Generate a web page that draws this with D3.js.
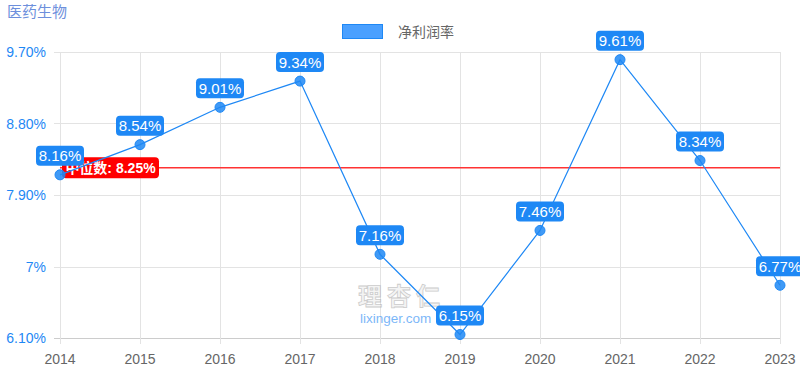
<!DOCTYPE html>
<html><head><meta charset="utf-8">
<script src="https://cdn.jsdelivr.net/npm/d3@7"></script>
<style>
body{margin:0;background:#fff;}
svg{display:block;font-family:"Liberation Sans",Arial,"Noto Sans CJK SC",sans-serif;}
</style></head>
<body><svg id="c" width="800" height="375"></svg>
<script>
const title = "医药生物";
const seriesName = "净利润率";
const years = ["2014","2015","2016","2017","2018","2019","2020","2021","2022","2023"];
const values = [8.16, 8.54, 9.01, 9.34, 7.16, 6.15, 7.46, 9.61, 8.34, 6.77];
const median = 8.25;
const medianLabel = "中位数: 8.25%";
const yTickValues = [6.10, 7.00, 7.90, 8.80, 9.70];
const yTickLabels = ["6.10%", "7%", "7.90%", "8.80%", "9.70%"];

const svg = d3.select("#c");
const x = d3.scalePoint().domain(years).range([60, 780]);
const y = d3.scaleLinear().domain([6.10, 9.70]).range([338.5, 52.5]);
const blue = "#1e88f5";

svg.append("text").attr("x", 7).attr("y", 17).attr("fill", "#6d8fdc")
  .attr("font-size", 15).text(title);

// legend
svg.append("rect").attr("x", 342.5).attr("y", 24.5).attr("width", 40).attr("height", 14)
  .attr("fill", "#4aa0ff").attr("stroke", blue).attr("stroke-width", 1);
svg.append("text").attr("x", 398).attr("y", 37).attr("fill", "#666").attr("font-size", 14).text(seriesName);

// grid
const gy = svg.append("g");
yTickValues.forEach((v, i) => {
  const yy = Math.floor(y(v)) + 0.5;
  gy.append("line").attr("x1", 54).attr("x2", 780).attr("y1", yy).attr("y2", yy)
    .attr("stroke", i === 0 ? "#ccc" : "#e3e3e3");
  gy.append("text").attr("x", 46).attr("y", y(v)).attr("dy", "0.35em").attr("text-anchor", "end")
    .attr("fill", blue).attr("font-size", 14).text(yTickLabels[i]);
});
years.forEach(yr => {
  gy.append("line").attr("x1", Math.round(x(yr)) + 0.5).attr("x2", Math.round(x(yr)) + 0.5)
    .attr("y1", 52).attr("y2", 344).attr("stroke", "#e3e3e3");
  gy.append("text").attr("x", x(yr)).attr("y", 364).attr("text-anchor", "middle")
    .attr("fill", "#666").attr("font-size", 14).text(yr);
});

// watermark
const wm = svg.append("g").attr("opacity", 0.6);
wm.append("text").attr("x", 358).attr("y", 305).attr("font-size", 24)
  .attr("font-weight", "bold").attr("fill", "#eee").attr("stroke", "#aaa").attr("stroke-width", 0.8)
  .attr("letter-spacing", 5).text("理杏仁");
wm.append("text").attr("x", 360).attr("y", 323).attr("font-size", 13.5).attr("fill", blue).text("lixinger.com");

// median line
svg.append("line").attr("x1", 60).attr("x2", 780).attr("y1", y(median)).attr("y2", y(median))
  .attr("stroke", "#ff3333").attr("stroke-width", 1.5);
const mg = svg.append("g");
mg.append("rect").attr("x", 62).attr("y", y(median) - 10.5).attr("width", 97).attr("height", 21).attr("rx", 4)
  .attr("fill", "#ff0000");
mg.append("text").attr("x", 110.5).attr("y", y(median)).attr("dy", "0.36em").attr("text-anchor", "middle")
  .attr("fill", "#fff").attr("font-size", 14).attr("font-weight", "bold").text(medianLabel);

// line
const line = d3.line().x((d, i) => x(years[i])).y(d => y(d));
svg.append("path").datum(values).attr("d", line).attr("fill", "none").attr("stroke", blue).attr("stroke-width", 1.2);

// labels
const lg = svg.append("g");
values.forEach((v, i) => {
  const cx = x(years[i]), cy = y(v);
  const t = v.toFixed(2) + "%";
  const w = 48, h = 20;
  lg.append("rect").attr("x", cx - w / 2).attr("y", cy - 9 - h).attr("width", w).attr("height", h)
    .attr("rx", 4).attr("fill", blue);
  lg.append("text").attr("x", cx).attr("y", cy - 9 - h / 2).attr("dy", "0.36em").attr("text-anchor", "middle")
    .attr("fill", "#fff").attr("font-size", 15).text(t);
});

// points
svg.append("g").selectAll("circle").data(values).join("circle")
  .attr("cx", (d, i) => x(years[i])).attr("cy", d => y(d)).attr("r", 5)
  .attr("fill", "rgba(30,136,245,0.85)").attr("stroke", blue).attr("stroke-width", 1);
</script></body></html>
